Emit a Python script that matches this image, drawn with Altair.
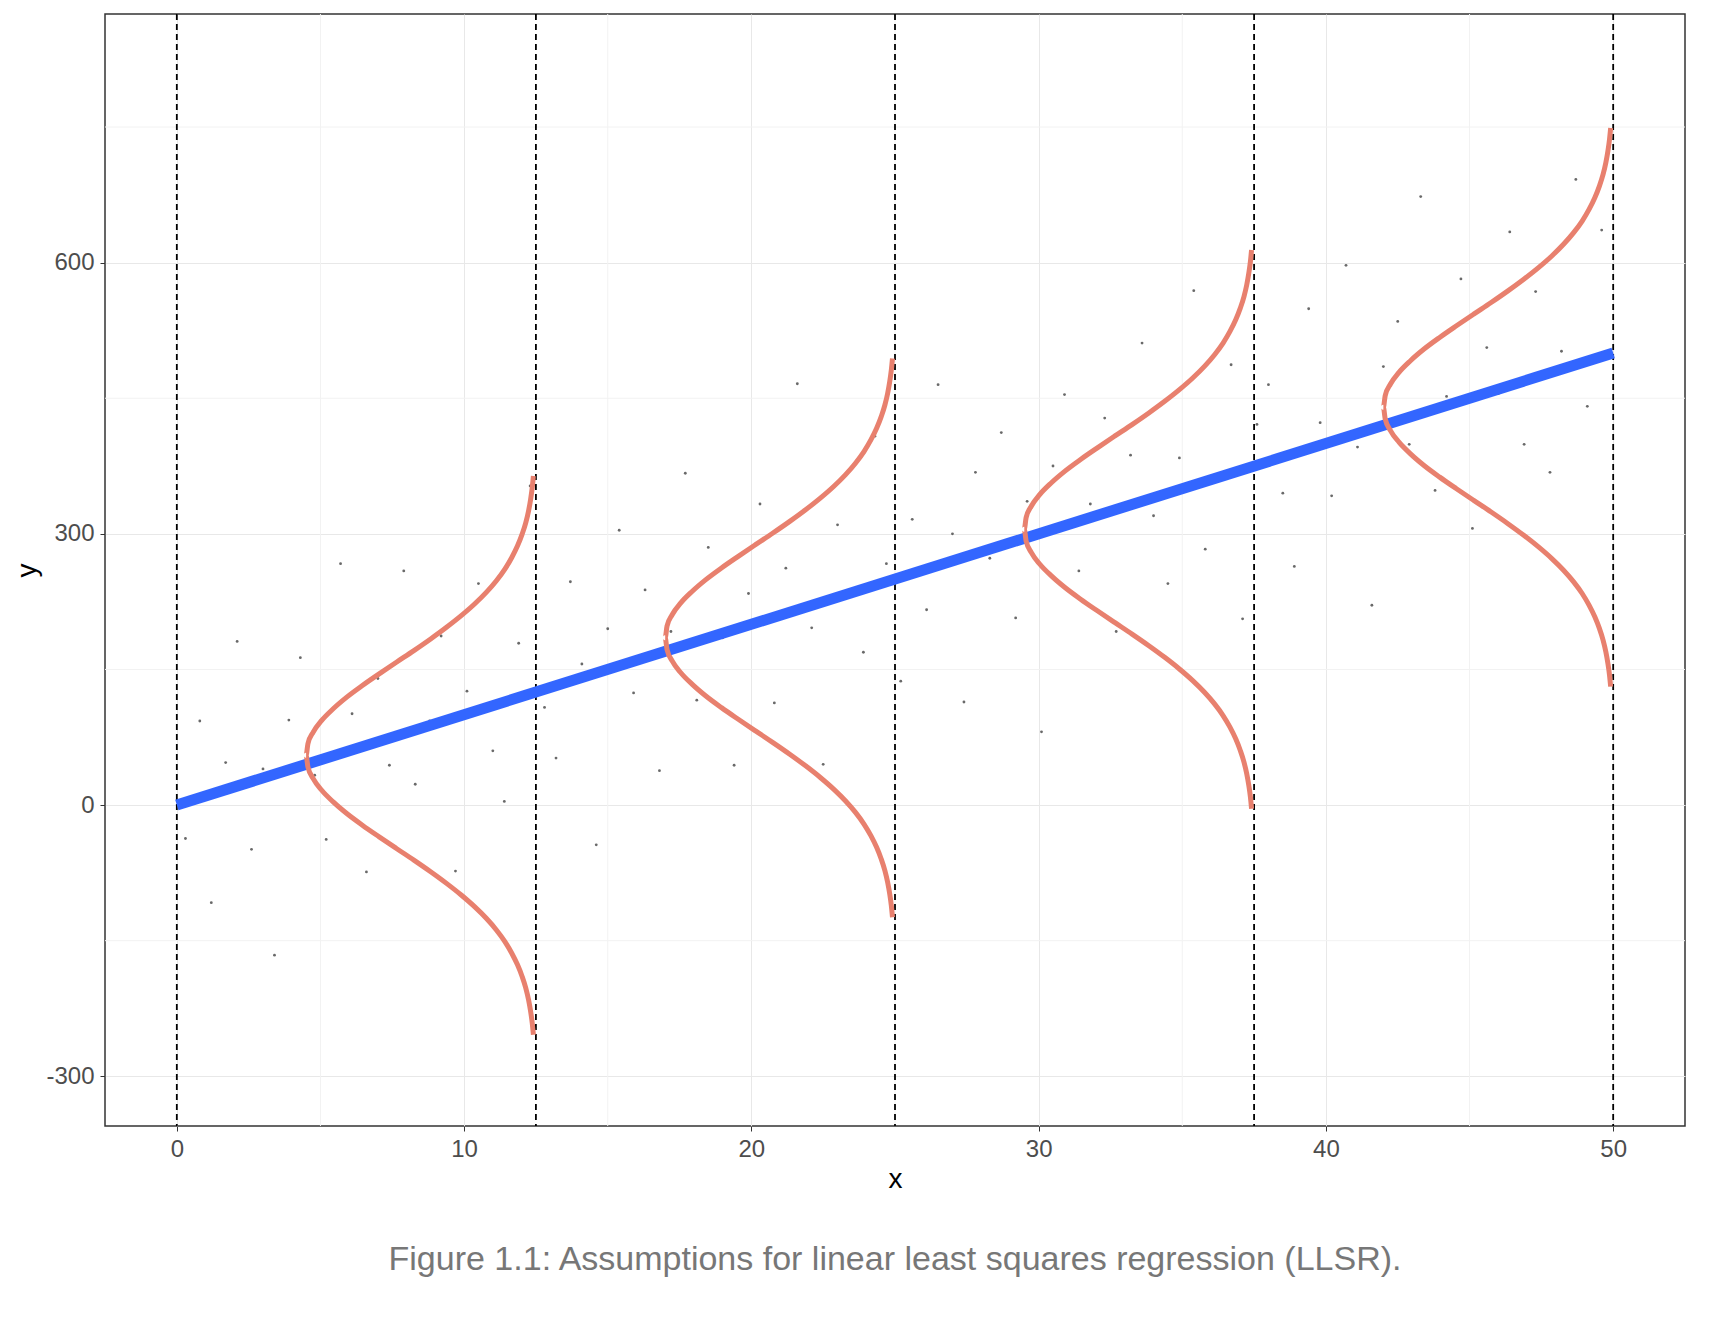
import altair as alt
import pandas as pd

# scatter sample (x and residual around the fitted line, read approximately)
pt_x = [0.3, 0.8, 1.2, 1.7, 2.1, 2.6, 3.0, 3.4, 3.9, 4.3, 4.8, 5.2, 5.7, 6.1, 6.6, 7.0,
        7.4, 7.9, 8.3, 8.8, 9.2, 9.7, 10.1, 10.5, 11.0, 11.4, 11.9, 12.3, 12.8, 13.2,
        13.7, 14.1, 14.6, 15.0, 15.4, 15.9, 16.3, 16.8, 17.2, 17.7, 18.1, 18.5, 19.0,
        19.4, 19.9, 20.3, 20.8, 21.2, 21.6, 22.1, 22.5, 23.0, 23.4, 23.9, 24.3, 24.7,
        25.2, 25.6, 26.1, 26.5, 27.0, 27.4, 27.8, 28.3, 28.7, 29.2, 29.6, 30.1, 30.5,
        30.9, 31.4, 31.8, 32.3, 32.7, 33.2, 33.6, 34.0, 34.5, 34.9, 35.4, 35.8, 36.3,
        36.7, 37.1, 37.6, 38.0, 38.5, 38.9, 39.4, 39.8, 40.2, 40.7, 41.1, 41.6, 42.0,
        42.5, 42.9, 43.3, 43.8, 44.2, 44.7, 45.1, 45.6, 46.0, 46.4, 46.9, 47.3, 47.8,
        48.2, 48.7, 49.1, 49.6]
pt_resid = [-40, 85, -120, 30, 160, -75, 10, -200, 55, 120, -15, -90, 210, 40, -140, 70,
            -30, 180, -60, 5, 95, -170, 25, 140, -50, -110, 60, 230, -20, -80, 110, 15,
            -190, 45, 150, -35, 75, -130, 20, 190, -65, 100, -5, -150, 35, 130, -95, 50,
            250, -25, -180, 80, 0, -70, 165, 20, -115, 60, -45, 200, 30, -160, 90, -10,
            125, -85, 40, -220, 70, 145, -55, 15, 105, -135, 55, 175, -20, -100, 35, 215,
            -75, 0, 120, -165, 45, 85, -40, -125, 155, 25, -60, 190, -15, -195, 65, 110,
            -30, 240, -90, 10, 135, -145, 50, -5, 170, -70, 95, -110, 20, 205, -50, 140]

line_x = [0, 50]
line_y = [0, 500]

cut_x = [0, 12.5, 25, 37.5, 50]

# normal-density profile (offset in sd, relative height)
prof_z = [-3, -2.875, -2.75, -2.625, -2.5, -2.375, -2.25, -2.125, -2, -1.875, -1.75,
          -1.625, -1.5, -1.375, -1.25, -1.125, -1, -0.875, -0.75, -0.625, -0.5, -0.375,
          -0.25, -0.125, 0, 0.125, 0.25, 0.375, 0.5, 0.625, 0.75, 0.875, 1, 1.125, 1.25,
          1.375, 1.5, 1.625, 1.75, 1.875, 2, 2.125, 2.25, 2.375, 2.5, 2.625, 2.75, 2.875, 3]
prof_h = [0.011, 0.016, 0.023, 0.032, 0.044, 0.060, 0.080, 0.105, 0.135, 0.172, 0.216,
          0.267, 0.325, 0.389, 0.458, 0.531, 0.607, 0.682, 0.755, 0.823, 0.882, 0.932,
          0.969, 0.992, 1.0, 0.992, 0.969, 0.932, 0.882, 0.823, 0.755, 0.682, 0.607,
          0.531, 0.458, 0.389, 0.325, 0.267, 0.216, 0.172, 0.135, 0.105, 0.080, 0.060,
          0.044, 0.032, 0.023, 0.016, 0.011]
curve_x0 = [12.5, 25, 37.5, 50]
curve_mu = [55, 185, 305, 440]
curve_sd = 103
curve_w = 8

pts = pd.DataFrame({"x": [x for x, r in zip(pt_x, pt_resid)],
                    "y": [10 * x + r for x, r in zip(pt_x, pt_resid)]})
fit = pd.DataFrame({"x": line_x, "y": line_y})
cuts = pd.DataFrame({"x": cut_x})
rows = []
for k, (x0, mu) in enumerate(zip(curve_x0, curve_mu)):
    for i, (z, h) in enumerate(zip(prof_z, prof_h)):
        rows.append({"c": k, "i": i, "x": x0 - curve_w * h, "y": mu + z * curve_sd})
curves = pd.DataFrame(rows)
minor_x = pd.DataFrame({"x": [5, 15, 25, 35, 45]})
minor_y = pd.DataFrame({"y": [-150, 150, 450, 750]})

xs = alt.Scale(domain=[-2.5, 52.5], nice=False, zero=False)
ys = alt.Scale(domain=[-355, 875], nice=False, zero=False)
ax_x = alt.Axis(values=[0, 10, 20, 30, 40, 50], title="x")
ax_y = alt.Axis(values=[-300, 0, 300, 600], title="y",
                labelExpr="replace(datum.label, '−', '-')")

mx = alt.Chart(minor_x).mark_rule(color="#f2f2f2", strokeWidth=1).encode(x=alt.X("x:Q", scale=xs))
my = alt.Chart(minor_y).mark_rule(color="#f2f2f2", strokeWidth=1).encode(y=alt.Y("y:Q", scale=ys))

scatter = alt.Chart(pts).mark_circle(size=8, color="#444444", opacity=0.8).encode(
    x=alt.X("x:Q", scale=xs, axis=ax_x), y=alt.Y("y:Q", scale=ys, axis=ax_y))
dash = alt.Chart(cuts).mark_rule(color="black", strokeDash=[6, 4], strokeWidth=1.8).encode(
    x=alt.X("x:Q", scale=xs))
fitline = alt.Chart(fit).mark_line(color="#3366FF", strokeWidth=11).encode(
    x=alt.X("x:Q", scale=xs), y=alt.Y("y:Q", scale=ys))
dens = alt.Chart(curves).mark_line(color="#E8806E", strokeWidth=5, interpolate="monotone").encode(
    x=alt.X("x:Q", scale=xs), y=alt.Y("y:Q", scale=ys), detail="c:N", order="i:Q")

chart = (
    alt.layer(mx, my, scatter, dash, fitline, dens)
    .properties(
        width=1580, height=1112,
        title=alt.TitleParams("Figure 1.1: Assumptions for linear least squares regression (LLSR).",
                              orient="bottom", fontSize=34, fontWeight="normal",
                              color="#777777", font="Liberation Sans", offset=50),
    )
    .configure_axis(labelFontSize=24, labelColor="#4d4d4d", titleFontSize=28,
                    titleFontWeight="normal", titleColor="black", gridColor="#e8e8e8",
                    tickColor="#333333", domain=False, labelFont="Liberation Sans",
                    titleFont="Liberation Sans", labelPadding=6)
    .configure_view(stroke="#333333", strokeWidth=1.5)
)
chart.save("out.html", embed_options={"renderer": "svg", "actions": False})
